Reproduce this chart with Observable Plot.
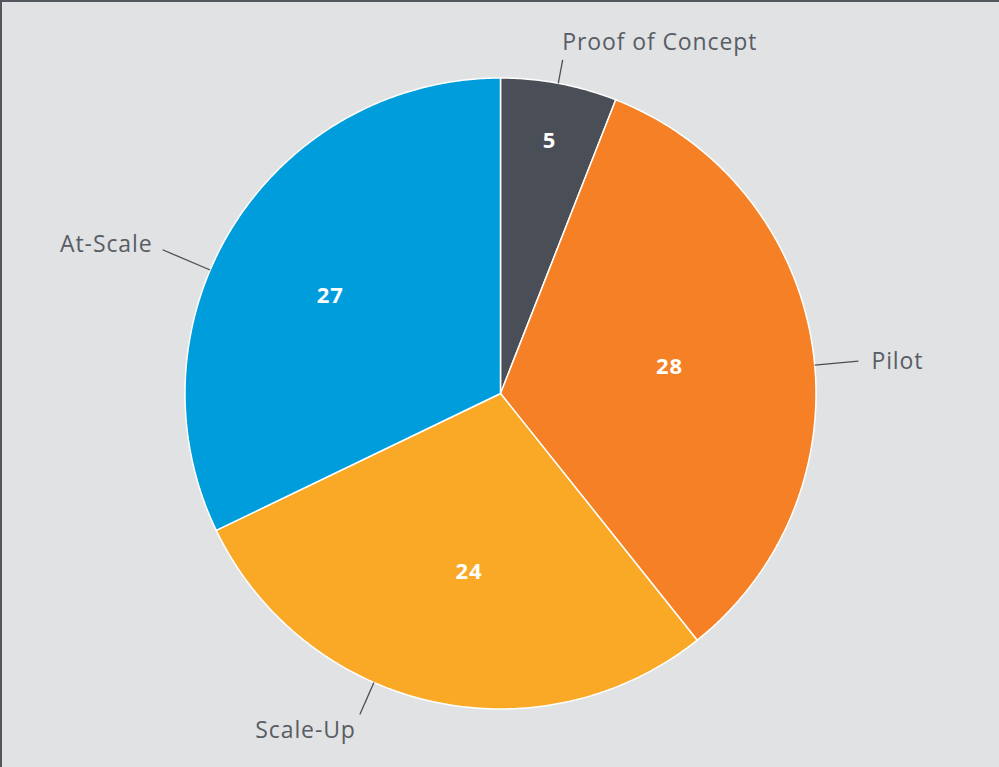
<!DOCTYPE html>
<html>
<head>
<meta charset="utf-8">
<script src="https://cdn.jsdelivr.net/npm/d3@7"></script>
<script src="https://cdn.jsdelivr.net/npm/@observablehq/plot@0.6"></script>
<style>
  html, body { margin: 0; padding: 0; background: #e1e2e4; }
  #wrap { position: relative; width: 999px; height: 767px; overflow: hidden; }
  #frame { position: absolute; left: 0; top: 0; width: 999px; height: 767px;
           border-top: 2px solid #52565d; border-left: 2px solid #52565d;
           box-sizing: border-box; pointer-events: none; }
  svg { display: block; }
</style>
</head>
<body>
<div id="wrap"><div id="frame"></div></div>
<script>
// ---- data ----
const categories = ["Proof of Concept", "Pilot", "Scale-Up", "At-Scale"];
const values = [5, 28, 24, 27];
const colors = ["#4a4e57", "#f58025", "#faa926", "#009ddc"];

// ---- layout (not data) ----
const valueLabelRadius = [0.817, 0.543, 0.571, 0.624];
const valueLabelNudge = [0.25, -0.8, -2.8, -2.0]; // degrees
// leader line: angle nudge (deg), outer radius; text offset in px from leader end, anchor
const outerLayout = [
  {nudge: -0.16, r: 1.076, dx: -0.5, dy: -17,  anchor: "start"},
  {nudge: 3.4,   r: 1.139, dx: 13,   dy: 0.5,  anchor: "start"},
  {nudge: 10.8,  r: 1.111, dx: -4,   dy: 16,   anchor: "end"},
  {nudge: -9.1,  r: 1.164, dx: -10,  dy: -5.5, anchor: "end"}
];
const W = 999, H = 767, cx = 500, cy = 393, R = 315.5;

const total = d3.sum(values);
const rad = Math.PI / 180;
let acc = 0;
const slices = categories.map((c, i) => {
  const a0 = acc / total * 2 * Math.PI;
  acc += values[i];
  const a1 = acc / total * 2 * Math.PI;
  return {category: c, value: values[i], color: colors[i], a0, a1, mid: (a0 + a1) / 2, i};
});

function polygon(s) {
  const pts = [{x: 0, y: 0}];
  const n = Math.max(8, Math.ceil((s.a1 - s.a0) / (Math.PI / 360)));
  for (let k = 0; k <= n; k++) {
    const a = s.a0 + (s.a1 - s.a0) * k / n;
    pts.push({x: Math.sin(a), y: Math.cos(a)});
  }
  pts.push({x: 0, y: 0});
  return pts;
}

const valueLabels = slices.map(s => {
  const a = s.mid + valueLabelNudge[s.i] * rad;
  return {
    text: String(s.value),
    x: valueLabelRadius[s.i] * Math.sin(a),
    y: valueLabelRadius[s.i] * Math.cos(a) - 1 / R
  };
});

const leaders = slices.map(s => {
  const L = outerLayout[s.i];
  const a = s.mid + L.nudge * rad;
  const x2 = L.r * Math.sin(a), y2 = L.r * Math.cos(a);
  return {
    category: s.category, anchor: L.anchor,
    x1: Math.sin(a), y1: Math.cos(a), x2, y2,
    tx: x2 + L.dx / R, ty: y2 - L.dy / R
  };
});

const font = "'Open Sans', Lato, sans-serif";

const marks = [
  ...slices.map(s => Plot.line(polygon(s), {
    x: "x", y: "y", fill: s.color, stroke: "#ffffff", strokeWidth: 1.5,
    strokeLinejoin: "round"
  })),
  Plot.link(leaders, {x1: "x1", y1: "y1", x2: "x2", y2: "y2", stroke: "#4a4e57", strokeWidth: 1.3}),
  ...["start", "end"].map(anchor => Plot.text(leaders.filter(d => d.anchor === anchor), {
    x: "tx", y: "ty", text: "category", textAnchor: anchor,
    fill: "#585d64", fontSize: 23, fontFamily: font, className: "outer-label"
  })),
  Plot.text(valueLabels, {
    x: "x", y: "y", text: "text", fill: "#ffffff",
    fontSize: 22, fontWeight: "bold", fontFamily: font, className: "value-label"
  })
];

const chart = Plot.plot({
  width: W, height: H,
  marginLeft: cx - R, marginRight: W - (cx + R),
  marginTop: cy - R, marginBottom: H - (cy + R),
  x: {domain: [-1, 1], axis: null},
  y: {domain: [-1, 1], axis: null},
  style: {background: "transparent", overflow: "visible"},
  marks
});
// widen lettering a little to approximate the reference's wide geometric face
chart.querySelectorAll(".outer-label text").forEach(t => { t.style.letterSpacing = "0.9px"; });
chart.querySelectorAll(".value-label text").forEach(t => { t.style.letterSpacing = "1px"; });
document.getElementById("wrap").insertBefore(chart, document.getElementById("frame"));
</script>
</body>
</html>
